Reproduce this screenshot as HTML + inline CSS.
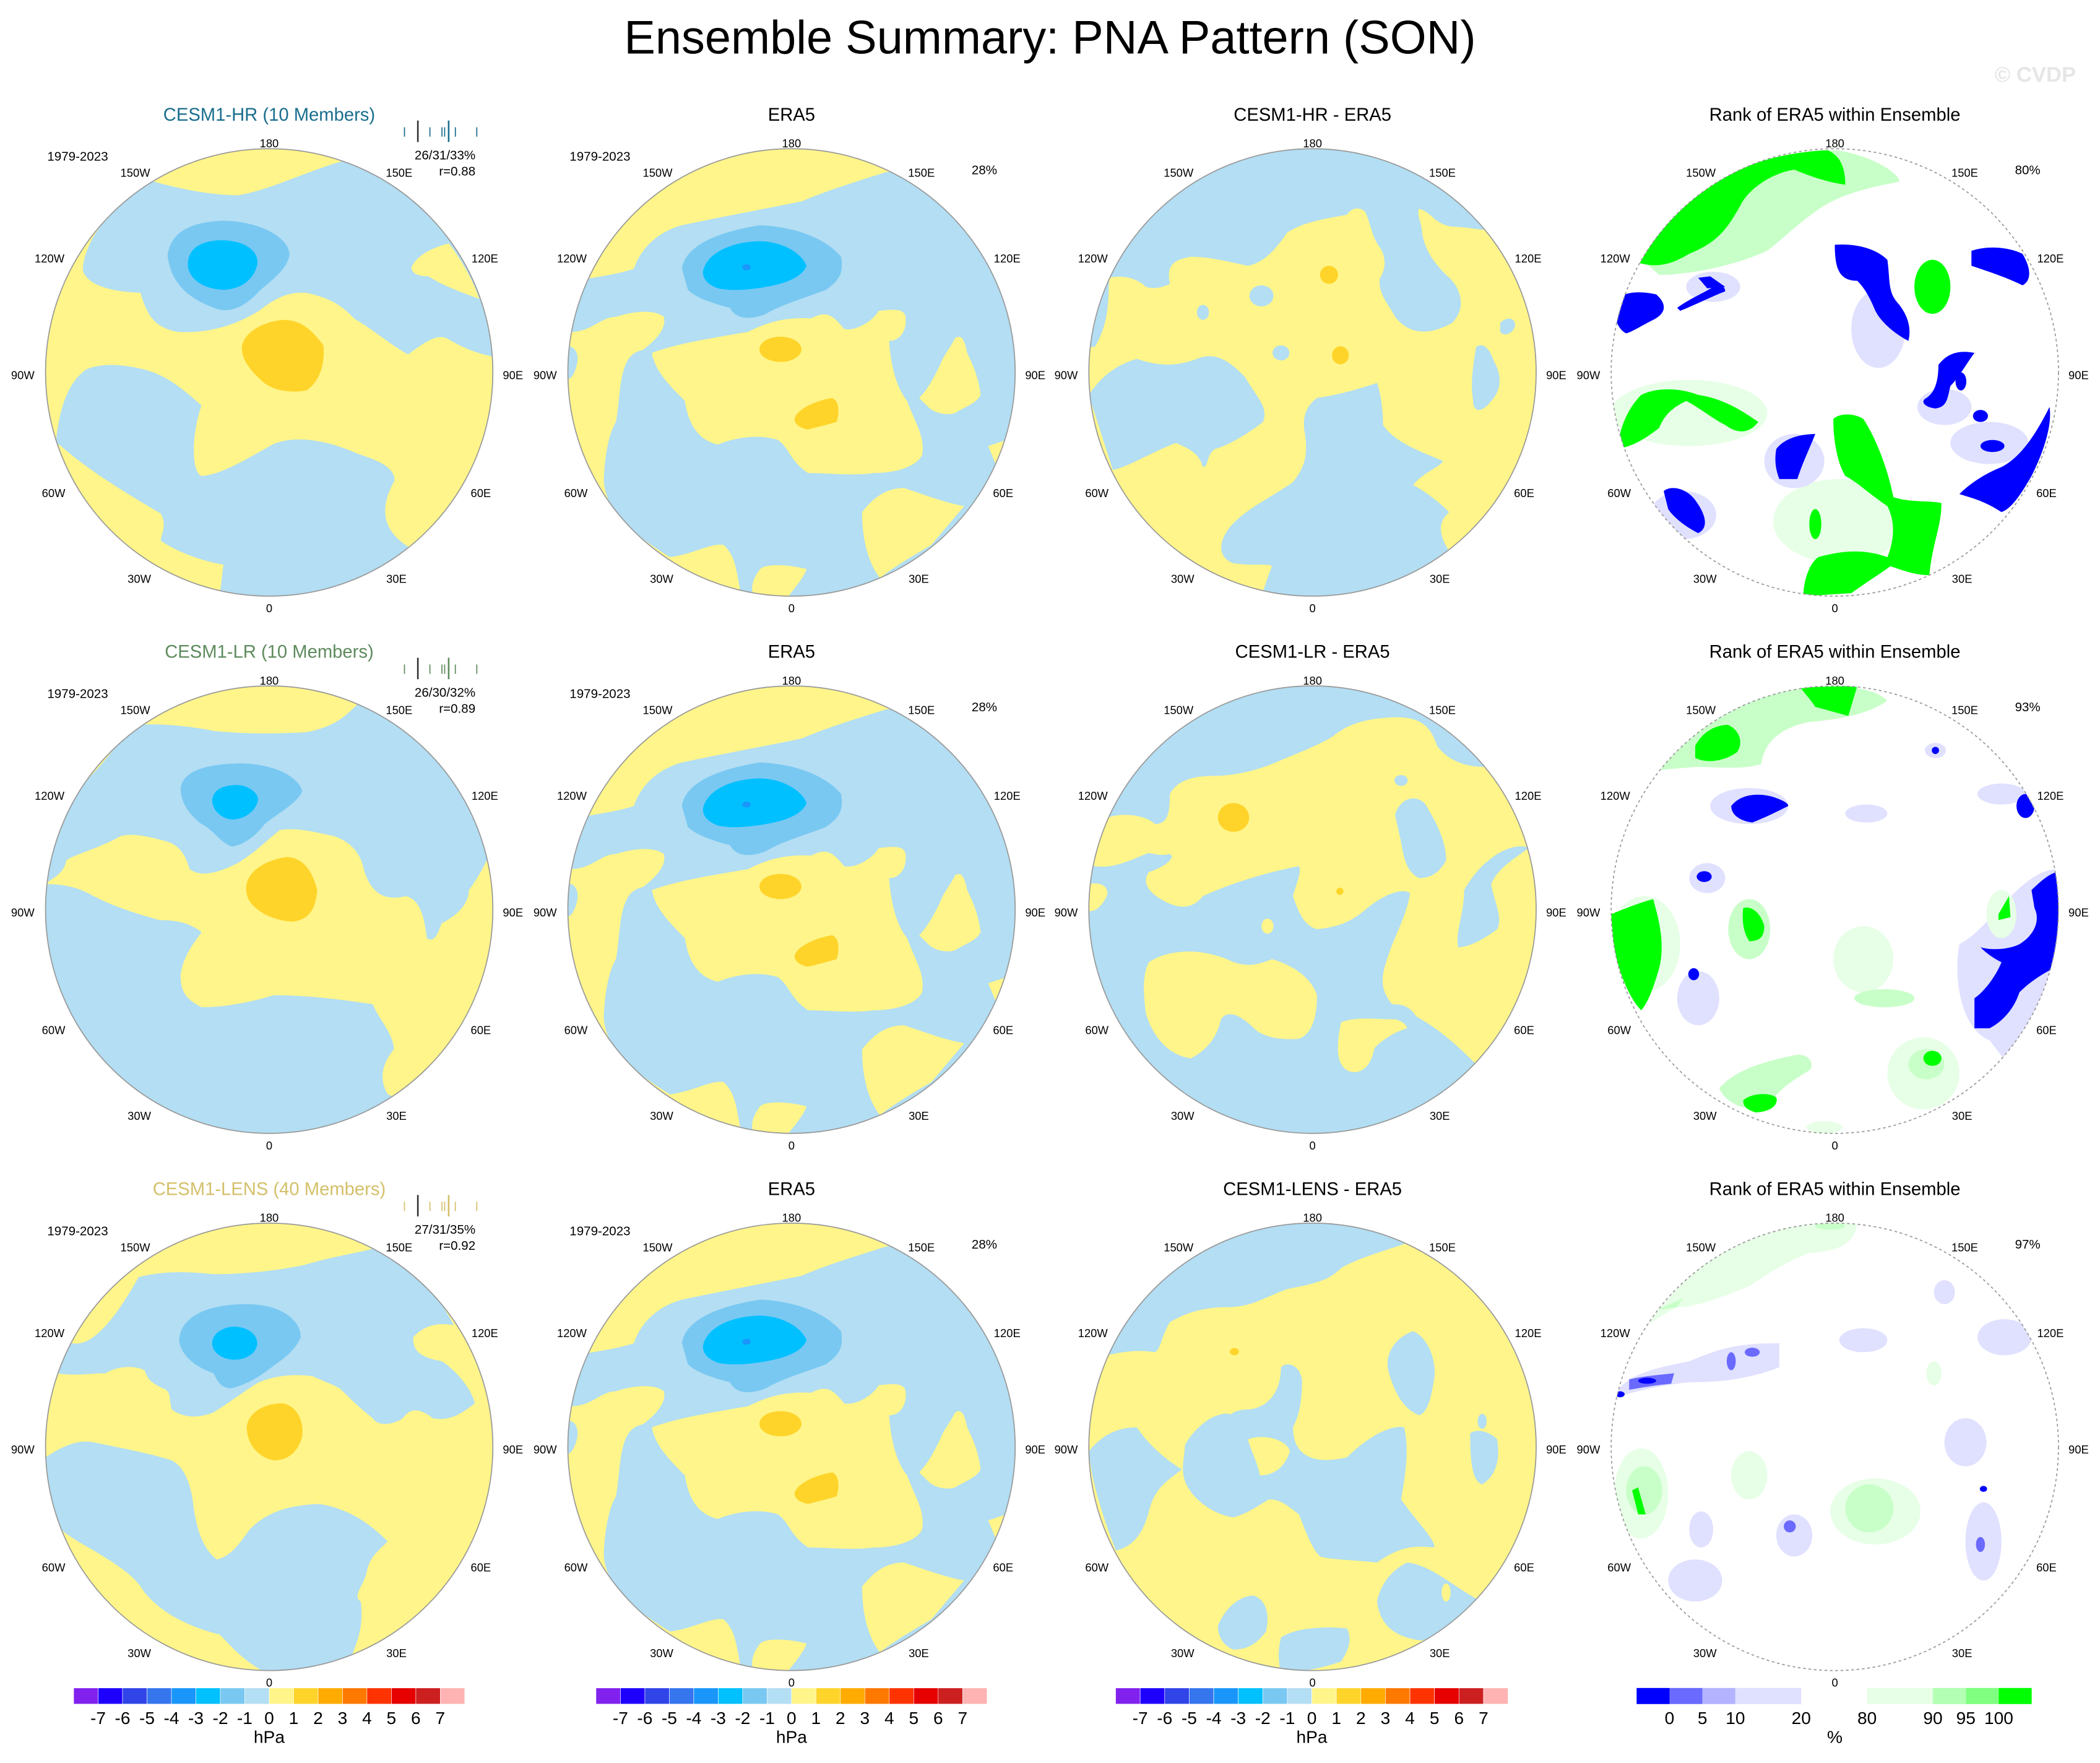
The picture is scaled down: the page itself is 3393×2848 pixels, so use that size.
<!DOCTYPE html>
<html><head><meta charset="utf-8">
<style>
html,body{margin:0;padding:0;background:#fff;}
svg{display:block;font-family:"Liberation Sans",sans-serif;}
</style></head>
<body>
<svg id="fig" width="3393" height="2848" viewBox="0 0 1568 1316" preserveAspectRatio="none" xmlns="http://www.w3.org/2000/svg">
<text x="784" y="40" text-anchor="middle" font-size="35" fill="#000">Ensemble Summary: PNA Pattern (SON)</text>
<text x="1550" y="61" text-anchor="end" font-size="16" font-weight="bold" fill="#e6e6e6">© CVDP</text>
<defs><clipPath id="cc"><circle cx="0" cy="0" r="167"/></clipPath></defs>
<g id="panels"></g>
<g id="cbars"></g>
</svg>
<script>
// ---- data arrays ----
const hpaLevels = [-7,-6,-5,-4,-3,-2,-1,0,1,2,3,4,5,6,7];
const hpaColors = ["#8121ed","#1e00ff","#3044e8","#3575ed","#1a96fb","#00c0ff","#79c8f2","#b3def3","#fff58a","#ffd42a","#ffab00","#ff7800","#ff3300","#e60000","#cc1f1f","#ffb3b3"];
const rankEdges = [0,5,10,20,80,90,95,100];
const rankColors = ["#0000ff","#6a6aff","#b3b3ff","#e0e0ff","#ffffff","#e6ffe6","#b3ffb3","#80ff80","#00ff00"];
const colCenters = [201,591,980,1370];
const rowCenters = [278,679,1080];
const lonLabels = ["180","150E","120E","90E","60E","30E","0","30W","60W","90W","120W","150W"];

const NS="http://www.w3.org/2000/svg";
const panelsG=document.getElementById('panels');
const cbG=document.getElementById('cbars');
function mk(tag,attrs,parent){const e=document.createElementNS(NS,tag);for(const k in attrs)e.setAttribute(k,attrs[k]);parent.appendChild(e);return e;}
function txt(s,x,y,size,anchor,fill,parent,name){const t=mk('text',{x:x,y:y,'font-size':size,'text-anchor':anchor,fill:fill},parent);t.textContent=s;


return t;}

const B="#b3def3",Y="#fff58a",MB="#79c8f2",CB="#00c0ff",OY="#ffd42a",DB="#1a96fb";
const G="#00ff00",LG="#c8ffc8",VG="#e6ffe6",BL="#0000ff",LB="#e0e0ff",MBL="#6a6aff";
const ZS="scale(0.2242) translate(-785,-785)";

const meanHR={bg:B,z:"scale(0.253,0.2242) translate(-790,-790)",shapes:[
[Y,"M400,0 L1100,0 L1010,85 C900,120 800,180 700,200 C600,200 500,170 450,155 Z"],
[Y,"M0,0 L330,0 L320,270 C270,320 240,400 240,450 C250,490 300,520 410,525 C430,600 450,640 520,655 C600,660 680,640 760,585 C810,540 850,520 900,525 C960,540 1000,560 1040,610 C1100,650 1150,700 1200,730 C1260,680 1290,660 1320,680 C1380,720 1420,730 1460,740 L1600,740 L1600,1568 L1450,1568 C1400,1450 1300,1400 1200,1370 C1130,1320 1110,1250 1160,1150 C1160,1100 1100,1080 1050,1060 C950,1010 860,1000 800,1030 C720,1080 650,1130 590,1135 C560,1120 560,1000 590,900 C540,850 490,800 420,780 C350,760 290,760 250,780 C200,820 170,900 160,1030 L0,1030 Z"],
[Y,"M1210,440 C1230,390 1290,370 1320,360 C1360,420 1390,480 1410,545 C1350,520 1300,500 1260,470 C1220,470 1210,455 1210,440 Z"],
[Y,"M0,1030 L170,1030 C260,1120 380,1200 470,1260 C490,1300 470,1330 470,1350 C520,1390 600,1420 655,1430 L640,1568 L0,1568 Z"],
[MB,"M490,400 C500,320 560,290 650,285 C760,285 850,340 850,400 C840,450 800,480 760,520 C720,570 680,590 640,580 C560,550 500,500 490,400 Z"],
[CB,"M550,430 C550,370 600,350 650,350 C710,350 760,380 755,430 C745,480 710,510 660,515 C600,515 550,480 550,430 Z"],
[OY,"M710,700 C720,650 780,620 830,615 C880,615 910,640 950,700 C955,760 940,820 900,850 C850,860 800,850 770,820 C730,780 705,740 710,700 Z"]]};
const meanLR={bg:B,z:ZS,shapes:[
[Y,"M200,100 L300,0 L1100,0 L1080,100 C1040,140 1000,180 900,195 C800,200 700,200 600,190 C500,170 400,165 350,170 C300,200 250,280 200,330 C180,350 170,370 150,380 L100,380 Z"],
[Y,"M40,700 C60,680 100,670 110,620 C140,600 220,580 290,540 C330,530 380,540 450,560 C500,580 510,620 520,650 C560,680 620,660 680,630 C730,600 760,570 820,520 C880,510 950,530 1000,540 C1060,560 1090,600 1100,650 C1120,720 1160,760 1240,740 C1280,750 1300,790 1310,880 C1340,900 1350,850 1360,830 C1420,800 1450,760 1450,720 C1480,680 1500,640 1510,620 L1600,600 L1600,1568 L1180,1400 C1150,1350 1160,1300 1200,1250 C1200,1200 1150,1150 1130,1100 C1000,1080 900,1070 800,1070 C700,1100 620,1110 560,1110 C500,1080 490,1050 490,1000 C500,940 530,900 560,860 C520,830 480,820 420,820 C350,800 280,780 200,740 C150,710 100,700 40,700 Z"],
[Y,"M0,680 L40,700 L40,760 L0,760 Z"],
[MB,"M490,380 C500,320 580,300 690,298 C800,300 880,340 895,390 C880,430 820,460 770,500 C740,540 700,570 660,575 C620,560 600,520 560,500 C520,470 490,430 490,380 Z"],
[CB,"M595,420 C600,380 640,370 680,370 C720,372 750,400 748,420 C740,460 700,485 660,485 C620,480 595,450 595,420 Z"],
[OY,"M710,700 C720,650 780,620 840,610 C900,610 930,660 945,720 C940,780 920,820 860,825 C800,820 760,800 730,770 C710,750 705,720 710,700 Z"]]};
const meanLENS={bg:Y,z:ZS,shapes:[
[B,"M0,440 L130,440 C180,450 250,400 350,220 C430,200 500,200 600,210 C700,210 800,200 900,180 C1000,150 1080,140 1130,125 C1250,170 1350,280 1400,380 C1350,370 1300,380 1265,420 C1260,470 1300,490 1360,500 C1420,540 1460,600 1470,640 C1420,680 1380,700 1330,690 C1280,650 1250,660 1230,690 C1200,710 1150,720 1130,690 C1080,650 1050,620 1020,590 C980,570 950,560 930,550 C860,540 800,550 750,570 C700,600 650,640 600,670 C550,690 500,690 460,660 C450,620 460,600 430,590 C390,570 380,560 370,530 C330,510 270,520 240,540 C200,540 130,550 80,540 L0,560 Z"],
[B,"M40,820 C100,780 150,760 200,770 C300,790 400,810 460,830 C500,850 520,900 530,960 C540,1050 560,1120 610,1160 C660,1150 690,1100 720,1060 C780,1000 850,980 950,975 C1050,990 1120,1040 1180,1100 C1150,1130 1120,1150 1110,1200 C1100,1250 1060,1280 1090,1300 C1100,1380 1080,1430 1060,1480 C950,1520 850,1540 780,1540 C700,1500 660,1450 620,1410 C500,1380 420,1330 370,1270 C340,1220 300,1190 200,1130 C130,1090 100,1070 80,1050 C60,980 40,900 40,820 Z"],
[MB,"M485,430 C490,350 580,310 710,310 C820,310 890,360 890,420 C870,470 820,500 780,530 C740,560 700,580 660,590 C620,590 610,560 600,540 C540,520 490,480 485,430 Z"],
[CB,"E670,440,75,55"],
[OY,"M710,720 C715,670 770,640 830,640 C880,650 900,700 895,750 C880,810 840,830 800,830 C750,820 712,780 710,720 Z"]]};
const era5={bg:B,z:ZS,shapes:[
[Y,"M0,0 L1568,0 L1568,118 L1100,118 C1000,150 900,180 820,215 C700,240 560,265 420,295 C330,320 280,380 260,440 C200,460 140,465 100,475 L0,480 Z"],
[Y,"M320,720 C400,690 520,670 640,650 C700,620 760,600 850,605 C900,580 920,590 960,640 C1000,650 1060,610 1075,580 C1120,575 1160,570 1165,600 C1170,640 1150,680 1110,680 C1115,750 1130,830 1170,880 C1200,960 1230,1000 1220,1060 C1200,1100 1130,1120 1060,1120 C990,1130 900,1120 840,1120 C780,1080 780,1040 740,1010 C680,990 600,1000 540,1025 C470,1010 440,950 430,880 C380,830 330,780 320,720 Z"],
[Y,"M0,600 L50,650 C120,650 150,600 200,600 C260,580 330,575 360,600 C370,640 330,680 290,710 C240,720 230,760 220,800 C210,850 210,900 200,950 C170,1000 160,1100 160,1150 C170,1250 250,1320 380,1400 C460,1390 520,1350 560,1360 C600,1400 600,1440 620,1540 L0,1568 Z"],
[B,"M30,700 C60,690 80,720 70,760 C60,800 40,820 30,800 Z"],
[Y,"M680,1568 L770,1535 C800,1500 830,1460 835,1440 C780,1425 700,1420 680,1440 C650,1480 640,1520 680,1568 Z"],
[Y,"M1020,1250 C1060,1200 1100,1170 1160,1170 C1220,1190 1300,1220 1360,1230 L1250,1360 C1180,1400 1100,1450 1080,1470 C1040,1420 1020,1340 1020,1250 Z"],
[Y,"M1210,870 C1240,840 1260,800 1280,760 C1290,730 1310,710 1330,670 C1350,660 1360,670 1370,720 C1400,780 1410,820 1415,860 C1400,890 1360,900 1330,920 C1300,930 1260,920 1240,900 Z"],
[Y,"M1440,1030 L1500,1010 L1465,1090 Z"],
[MB,"M420,440 C430,370 520,320 680,295 C800,300 900,340 950,400 C960,460 940,480 900,510 C820,540 750,560 700,590 C650,610 600,610 580,570 C540,560 470,540 440,510 Z"],
[CB,"M490,450 C500,390 580,350 680,348 C760,350 820,390 835,430 C820,470 760,490 700,500 C650,510 580,515 540,505 C500,490 490,470 490,450 Z"],
[DB,"E635,435,14,10"],
[OY,"E748,708,70,42"],
[OY,"M795,940 C800,910 860,880 920,870 C945,880 945,920 935,950 C900,960 860,970 840,975 C810,970 795,955 795,940 Z"]]};
const diff1={bg:B,z:ZS,shapes:[
[Y,"M0,700 L60,700 C120,600 100,500 110,470 C150,460 200,470 230,500 C260,510 290,500 310,490 C300,440 310,410 380,400 C450,400 520,420 570,430 C620,420 660,380 700,320 C760,280 850,270 900,260 C910,240 940,230 960,250 C980,290 980,330 1010,370 C1030,400 1030,440 1010,470 C1000,520 1040,560 1060,600 C1100,650 1160,670 1250,620 C1300,570 1280,500 1230,460 C1190,420 1160,380 1150,320 C1150,290 1130,260 1140,240 C1180,250 1190,290 1250,300 C1300,300 1330,310 1360,310 L1568,310 L1568,1568 L1240,1380 C1190,1300 1220,1270 1240,1250 C1210,1220 1160,1180 1120,1160 C1150,1120 1210,1100 1220,1080 C1150,1050 1060,1020 1020,960 C1020,900 1010,850 1000,820 C940,840 870,860 800,870 C760,900 750,940 760,990 C770,1060 760,1100 720,1150 C650,1200 560,1240 510,1300 C470,1350 470,1400 520,1420 C580,1430 640,1420 650,1430 C630,1480 620,1520 600,1568 L0,1568 Z"],
[B,"M40,860 C80,800 130,760 200,740 C260,760 320,770 400,740 C470,710 520,760 560,800 C600,870 640,900 620,950 C570,990 500,1030 460,1040 C430,1060 440,1100 420,1100 C410,1060 380,1040 330,1020 C250,1050 170,1100 120,1110 Z"],
[B,"M1330,700 C1360,680 1380,720 1390,750 C1420,800 1410,850 1380,880 C1350,920 1320,920 1320,880 C1310,820 1320,760 1330,700 Z"],
[B,"M1410,620 C1430,600 1460,600 1460,630 C1450,660 1420,665 1410,650 Z"],
[B,"E615,530,40,35"],[B,"E420,585,20,25"],[B,"E680,720,28,25"],
[OY,"E840,460,30,30"],[OY,"E878,728,28,30"]]};
const diff2={bg:B,z:ZS,shapes:[
[Y,"M100,480 C150,460 230,470 260,500 C300,500 310,470 310,400 C330,360 380,340 450,340 C530,340 600,320 650,300 C720,270 800,240 850,210 C900,170 950,150 1050,145 C1150,140 1180,180 1200,240 C1230,280 1280,310 1360,310 L1568,310 L1568,1568 L1330,1300 C1250,1220 1200,1180 1130,1140 C1110,1110 1090,1100 1050,1100 C1000,1040 1020,990 1040,930 C1060,870 1100,800 1110,730 C1080,710 1020,740 980,770 C930,810 900,840 800,850 C760,840 740,800 720,740 C730,700 750,660 740,640 C640,660 530,690 420,740 C380,790 330,780 280,750 C230,720 220,690 240,660 C300,640 330,610 310,600 C270,610 240,590 230,600 C180,620 120,650 60,640 L0,640 L0,480 Z"],
[B,"M1060,470 C1080,400 1150,400 1170,450 C1200,500 1230,560 1230,620 C1210,660 1180,680 1140,680 C1100,660 1090,620 1080,560 Z"],
[B,"M1290,720 C1330,650 1370,620 1400,600 C1450,570 1490,570 1505,580 C1450,620 1400,650 1380,700 C1390,760 1420,810 1400,850 C1360,880 1310,910 1270,910 C1260,860 1290,800 1290,720 Z"],
[B,"E1080,355,22,18"],
[Y,"M240,960 C300,920 400,910 500,950 C560,980 600,970 650,950 C720,970 780,1010 800,1070 C800,1150 780,1200 740,1215 C680,1220 620,1210 590,1180 C540,1130 500,1120 480,1150 C470,1200 440,1250 380,1280 C300,1270 250,1200 230,1130 C220,1050 220,1000 240,960 Z"],
[Y,"M880,1160 C930,1140 1000,1150 1050,1150 C1080,1150 1100,1170 1100,1180 C1060,1190 1000,1230 990,1250 C980,1310 940,1340 900,1320 C870,1300 860,1260 880,1160 Z"],
[Y,"M40,700 C80,690 110,710 100,740 C80,780 60,790 40,790 Z"],
[Y,"E635,840,20,25"],
[OY,"E522,478,52,48"],[OY,"E876,724,12,12"]]};
const diff3={bg:Y,z:ZS,shapes:[
[B,"M0,0 L1100,0 L1090,110 C1000,140 930,160 880,190 C840,230 800,240 700,260 C620,290 580,320 500,320 C420,320 360,340 310,370 C280,420 280,460 260,470 C200,460 150,470 100,480 L0,480 Z"],
[B,"M560,780 C460,680 520,660 580,660 C640,650 680,600 680,520 C700,500 740,510 750,560 C750,640 740,680 720,720 C720,800 770,850 900,820 C960,760 1040,710 1090,720 C1110,800 1090,900 1080,960 C1120,1020 1200,1100 1190,1120 C1100,1110 1060,1130 1000,1170 C900,1160 840,1160 810,1150 C780,1120 760,1060 740,1010 C700,980 680,960 640,960 C590,990 560,1010 520,1020 C460,1010 400,970 370,920 C340,870 360,820 360,780 C380,740 430,690 470,680 C520,660 560,690 560,780 Z"],
[Y,"M570,760 C620,740 700,760 710,800 C690,860 650,880 610,880 C600,830 580,800 570,760 Z"],
[B,"M40,800 C80,750 130,720 200,720 C240,780 300,830 350,860 C300,900 260,920 240,1000 C220,1080 180,1120 130,1130 C80,1000 50,900 40,800 Z"],
[B,"M1040,540 C1020,480 1060,420 1120,400 C1170,420 1200,500 1190,560 C1180,620 1170,670 1140,680 C1090,660 1060,610 1040,540 Z"],
[B,"M1310,740 C1340,720 1380,740 1400,760 C1410,820 1400,880 1350,910 C1320,900 1310,850 1310,740 Z"],
[B,"E1350,700,15,25"],
[B,"M470,1380 C500,1310 550,1280 590,1280 C640,1300 640,1360 630,1400 C600,1440 570,1460 520,1460 C480,1440 470,1410 470,1380 Z"],
[B,"M680,1420 C720,1390 820,1380 900,1390 C920,1430 900,1470 880,1500 C820,1520 760,1535 680,1535 C670,1500 670,1460 680,1420 Z"],
[B,"M1000,1300 C1010,1250 1040,1200 1100,1170 C1180,1180 1240,1240 1330,1290 C1280,1360 1230,1400 1150,1430 C1060,1420 1010,1380 1000,1300 Z"],
[Y,"E1230,1270,15,30"],
[OY,"E525,468,15,12"]]};
const rank1={bg:"#ffffff",z:ZS,shapes:[
[VG,"E800,1280,220,140"],[VG,"E300,920,260,110"],
[LB,"E930,640,90,130"],[LB,"E1150,900,90,60"],[LB,"E1300,1020,130,70"],[LB,"E380,500,90,50"],[LB,"E280,1260,110,80"],[LB,"E650,1080,100,90"],
[LG,"M130,400 C200,280 350,150 500,90 C600,60 700,45 790,45 C900,60 1000,120 1000,150 C900,170 800,190 720,250 C650,300 600,350 560,380 C450,430 300,460 200,460 Z"],
[G,"M130,420 C200,300 300,200 420,130 C520,80 640,50 760,45 C800,60 820,100 820,160 C750,150 700,130 650,110 C580,120 500,170 470,230 C430,300 400,350 300,390 C250,420 200,440 130,420 Z"],
[BL,"M50,560 C60,520 120,510 190,525 C230,560 220,590 180,610 C140,630 110,650 90,655 C60,640 50,600 50,560 Z"],
[BL,"M260,570 C300,540 350,520 380,500 C400,480 420,500 420,515 C380,530 320,560 270,580 Z"],
[BL,"M330,470 L370,465 L420,500 L360,505 Z"],
[BL,"M785,360 C850,355 920,370 960,410 C970,480 960,520 1000,560 C1030,600 1040,640 1030,680 C990,660 940,620 920,580 C900,530 880,500 860,480 C800,480 785,440 785,360 Z"],
[G,"E1110,500,60,90"],
[BL,"M1240,380 C1300,360 1370,370 1410,390 C1440,440 1440,480 1410,495 C1360,470 1300,450 1240,430 Z"],
[BL,"M1130,760 C1160,720 1200,710 1250,720 C1220,760 1200,800 1170,830 C1160,870 1160,900 1120,905 C1080,900 1070,880 1090,870 C1120,850 1130,810 1130,760 Z"],
[BL,"E1205,815,18,30"],
[BL,"M1500,900 C1510,960 1480,1050 1440,1130 C1400,1200 1370,1240 1340,1250 C1280,1210 1230,1200 1200,1190 C1240,1150 1290,1120 1340,1100 C1400,1070 1450,1000 1500,900 Z"],
[BL,"E1270,930,25,20"],[BL,"E1310,1030,40,20"],
[BL,"M590,1040 C620,1000 680,990 720,990 C700,1040 680,1080 660,1140 L600,1140 C585,1100 585,1070 590,1040 Z"],
[BL,"M215,1180 C240,1160 290,1170 320,1210 C350,1250 370,1300 330,1320 C290,1300 250,1270 230,1240 Z"],
[G,"M60,1040 C70,960 100,900 140,860 C200,830 280,840 330,860 C400,870 460,900 530,950 C500,990 460,990 420,960 C380,940 330,900 290,880 C250,900 220,920 200,970 C160,1000 120,1030 60,1040 Z"],
[G,"M780,940 C800,920 850,920 880,940 C920,1000 960,1100 980,1200 C1040,1220 1100,1210 1140,1220 C1140,1300 1110,1350 1100,1460 C1050,1460 1000,1440 970,1430 C930,1460 880,1490 840,1520 L680,1530 C680,1480 700,1420 730,1400 C800,1380 880,1370 960,1400 C980,1350 990,1290 960,1230 C900,1190 860,1150 820,1130 C790,1080 780,1000 780,940 Z"],
[G,"E720,1290,20,50"]]};
const rank2={bg:"#ffffff",z:ZS,shapes:[
[LG,"M200,320 C250,220 350,150 450,100 C550,60 650,45 780,40 C880,45 930,60 960,90 C900,130 820,150 700,160 C600,180 550,230 540,300 C480,320 400,310 320,310 Z"],
[G,"M670,45 L860,40 L830,140 L720,110 C700,80 680,60 670,45 Z"],
[G,"M320,240 C340,200 380,170 430,170 C470,190 480,230 460,260 C420,290 360,300 320,280 Z"],
[LB,"E500,440,130,60"],
[BL,"M440,440 C470,400 530,395 580,410 C610,420 630,430 630,440 C590,460 550,480 510,495 C470,490 440,470 440,440 Z"],
[LB,"E890,465,70,30"],[LB,"E1120,255,35,25"],[BL,"E1120,255,12,12"],
[LB,"E360,680,60,50"],[BL,"E350,675,25,18"],
[VG,"E150,900,120,160"],
[G,"M40,800 C90,780 140,760 180,750 C200,820 220,900 200,980 C180,1050 160,1100 140,1120 C100,1080 70,1000 50,920 Z"],
[LG,"E500,850,70,100"],
[G,"M480,780 C510,770 540,800 550,840 C550,880 530,890 500,890 C480,860 475,820 480,780 Z"],
[LB,"E330,1080,70,90"],[BL,"E315,1000,18,20"],
[VG,"E880,950,100,110"],[LG,"E950,1080,100,30"],
[LB,"M1200,900 C1300,850 1400,660 1520,650 L1568,650 L1568,1568 L1300,1220 C1200,1180 1180,1000 1200,900 Z"],
[BL,"M1440,720 C1480,680 1510,660 1530,660 L1568,660 L1568,960 C1500,980 1440,1020 1400,1060 C1380,1120 1340,1160 1300,1180 L1250,1180 L1250,1080 C1280,1060 1320,1010 1340,960 C1300,940 1280,920 1270,910 C1300,920 1360,920 1400,900 C1450,870 1470,820 1450,780 Z"],
[LB,"E1340,400,80,35"],[BL,"E1420,440,30,40"],
[VG,"E1340,800,50,80"],[G,"M1330,800 L1365,740 L1370,810 L1330,820 Z"],
[LG,"M400,1380 C450,1320 550,1290 650,1270 C700,1260 720,1300 700,1320 C650,1350 600,1380 560,1440 C500,1460 430,1440 400,1380 Z"],
[G,"M480,1420 C500,1400 560,1390 590,1410 C600,1440 560,1460 520,1460 C490,1450 480,1440 480,1420 Z"],
[VG,"E1080,1330,120,120"],[LG,"E1090,1300,60,50"],[G,"E1110,1280,30,25"],
[VG,"E750,1510,60,20"]]};
const rank3={bg:"#ffffff",z:ZS,shapes:[
[VG,"M160,380 C220,300 300,200 420,130 C550,70 650,45 760,40 L860,40 C850,100 820,130 700,140 C620,170 560,210 500,250 C400,290 320,320 260,320 C220,340 190,360 160,380 Z"],
[LG,"M190,330 L280,290 L260,320 Z"],[LG,"E770,50,50,12"],
[LB,"M60,600 C100,540 200,520 300,500 C400,460 450,440 600,440 L600,520 C500,560 400,570 300,570 C200,580 120,600 60,620 Z"],
[MBL,"M100,560 C150,550 200,545 250,540 L240,575 C180,580 130,590 100,595 Z"],
[MBL,"E440,500,15,30"],[MBL,"E510,470,25,15"],[BL,"E160,565,30,10"],[BL,"E70,610,15,10"],
[LB,"E880,430,80,40"],[LB,"E1150,270,35,40"],[LB,"E1350,420,90,60"],
[VG,"E1115,540,25,40"],
[LB,"E1220,770,70,80"],[LB,"E1280,1100,60,130"],[MBL,"E1270,1110,15,25"],[BL,"E1280,925,12,10"],
[VG,"E140,940,90,150"],[LG,"E150,930,60,80"],[G,"M110,930 L130,920 L155,1010 L130,1010 Z"],
[VG,"E500,880,60,80"],
[LB,"E650,1080,60,70"],[MBL,"E635,1050,20,20"],
[LB,"E320,1230,90,70"],[LB,"E340,1060,40,60"],
[VG,"E920,1000,150,110"],[LG,"E900,990,80,80"]]};

const panels=[
 [{t:"CESM1-HR (10 Members)",c:"#1a6e8e",m:meanHR,k:"mean",info:["26/31/33%","r=0.88"]},{t:"ERA5",m:era5,k:"obs",pct:"28%"},{t:"CESM1-HR - ERA5",m:diff1,k:"diff"},{t:"Rank of ERA5 within Ensemble",m:rank1,k:"rank",pct:"80%"}],
 [{t:"CESM1-LR (10 Members)",c:"#5e8b5e",m:meanLR,k:"mean",info:["26/30/32%","r=0.89"]},{t:"ERA5",m:era5,k:"obs",pct:"28%"},{t:"CESM1-LR - ERA5",m:diff2,k:"diff"},{t:"Rank of ERA5 within Ensemble",m:rank2,k:"rank",pct:"93%"}],
 [{t:"CESM1-LENS (40 Members)",c:"#d4c06a",m:meanLENS,k:"mean",info:["27/31/35%","r=0.92"]},{t:"ERA5",m:era5,k:"obs",pct:"28%"},{t:"CESM1-LENS - ERA5",m:diff3,k:"diff"},{t:"Rank of ERA5 within Ensemble",m:rank3,k:"rank",pct:"97%"}]];

const lblOff=[[0,-171],[97,-149],[161,-85],[182,2],[158,90],[95,154],[0,176],[-97,154],[-161,90],[-184,2],[-164,-85],[-100,-149]];
panels.forEach((row,ri)=>{row.forEach((p,ci)=>{
 const cx=colCenters[ci],cy=rowCenters[ri];
 const g=mk('g',{transform:`translate(${cx},${cy})`},panelsG);
 
 
 txt(p.t,0,-188,13.5,'middle',p.c||"#000",g,'panel-title');
 const m=mk('g',{'clip-path':'url(#cc)'},g);
 
 
 const bg=mk('circle',{cx:0,cy:0,r:167,fill:p.m.bg},m);
 
 
 const sg=p.m.z?mk('g',{transform:p.m.z},m):m;
 p.m.shapes.forEach(s=>{
  let e;
  if(s[1][0]==="E"){const v=s[1].slice(1).split(',').map(Number);e=mk('ellipse',{cx:v[0],cy:v[1],rx:v[2],ry:v[3],fill:s[0]},sg);}
  else e=mk('path',{d:s[1],fill:s[0]},sg);
  
  
 });
 const ol=mk('circle',{cx:0,cy:0,r:167,fill:'none',stroke:'#999','stroke-width':0.8,'stroke-dasharray':p.k==='rank'?'2,2':'none'},g);
 
 
 lonLabels.forEach((l,i)=>{
  txt(l,lblOff[i][0],lblOff[i][1]+3,8.5,'middle','#000',g,'lon-label');
 });
 if(p.k==='mean'||p.k==='obs') txt("1979-2023",-143,-158,9.5,'middle','#000',g,'period-label');
 if(p.info){
  txt(p.info[0],154,-159,9.5,'end','#000',g,'pattern-stats');
  txt(p.info[1],154,-147,9.5,'end','#000',g,'pattern-correlation');
  const ticks=[101,111,120,129,131,134,139,155];
  ticks.forEach((tx,ti)=>{const big=(ti===1||ti===5);
   const ln=mk('line',{x1:tx,x2:tx,y1:big?-188:-183,y2:big?-172:-176,stroke:ti===1?'#333':p.c,'stroke-width':big?1.2:0.8},g);
   
   });
 }
 if(p.pct) txt(p.pct,144,-148,9.5,'middle','#000',g,'variance-percent');
});});

// colorbars
function hpaBar(x0,x1,name){
 const w=(x1-x0)/hpaColors.length;
 hpaColors.forEach((c,i)=>{const r=mk('rect',{x:x0+i*w,y:1260,width:w,height:12,fill:c,stroke:'#fff','stroke-width':0.3},cbG);
  
  });
 hpaLevels.forEach((v,i)=>txt(String(v),x0+(i+1)*w,1287,13,'middle','#000',cbG,'colorbar-tick-label'));
 txt("hPa",(x0+x1)/2,1301,13,'middle','#000',cbG,name);
}
hpaBar(55,347,'colorbar-unit');hpaBar(445,737,'colorbar-unit');hpaBar(833,1126,'colorbar-unit');
const rx0=1222;
const rankWidths=[1,1,1,2,2,2,1,1,1];
const rankPos=[1,2,3,5,7,9,10,11];
const rscale=295/12;
let u=0;
rankColors.forEach((c,i)=>{const r=mk('rect',{x:rx0+u*rscale,y:1260,width:rankWidths[i]*rscale,height:12,fill:c},cbG);
 
 
 u+=rankWidths[i];});
rankEdges.forEach((v,i)=>txt(String(v),rx0+rankPos[i]*rscale,1287,13,'middle','#000',cbG,'rank-tick-label'));
txt("%",1370,1301,13,'middle','#000',cbG,'rank-colorbar-unit');
</script>
</body></html>
